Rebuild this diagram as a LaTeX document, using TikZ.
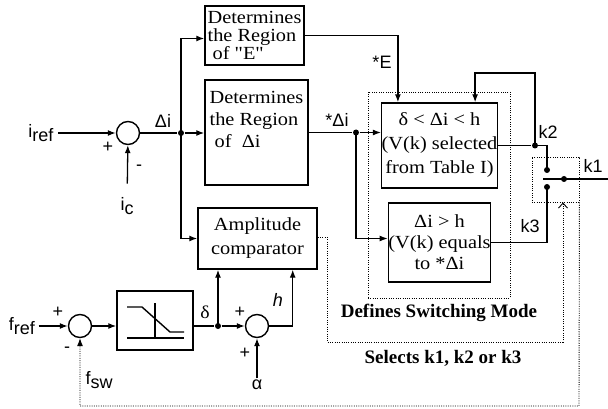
\documentclass[tikz,border=0pt]{standalone}
\usepackage{fontspec}
\setmainfont{Liberation Serif}
\newfontfamily\lblfont{Liberation Sans}
\newfontfamily\boxfont[FakeStretch=1.1]{Liberation Serif}
\usetikzlibrary{arrows.meta,positioning}
\newcommand{\lsub}[2]{#1\raisebox{-0.45ex}{#2}}

\begin{document}
\begin{tikzpicture}[x=1pt,y=-1pt,line width=1.3pt,>={Latex[length=8pt,width=6pt]},
  blk/.style={draw,line width=1.4pt,inner sep=1pt,font=\boxfont\fontsize{18.5}{#1}\selectfont},
  sumc/.style={draw,circle,line width=1.4pt,minimum size=23pt,inner sep=0pt},
  lbl/.style={font=\lblfont\fontsize{18}{18}\selectfont,inner sep=1pt},
  bfl/.style={font=\bfseries\fontsize{19}{19}\selectfont,inner sep=1pt},
  dotj/.style={circle,fill,inner sep=0pt,minimum size=6pt},
  dbox/.style={draw,dash pattern=on 1pt off 1.3pt,line width=0.9pt}]
  \useasboundingbox (0,0) rectangle (608,409);

  % blocks
  \node[blk=18,minimum width=99pt,minimum height=59pt,align=left,inner sep=0pt] (regE) at (254.5,35.5)
    {Determines\\the Region\\\ of "E"};
  \node[blk=22,minimum width=103pt,minimum height=105pt,align=left] (reg) at (256.5,132.5)
    {Determines\\the Region\\\ of\ \ Δi\\[4pt]};
  \node[blk=24,minimum width=119pt,minimum height=61pt,align=center] (amp) at (257.5,238.5)
    {Amplitude\\comparator};
  \node[blk=24,minimum width=107pt,minimum height=85pt,align=center,inner sep=0pt] (dsel) at (439.5,145.5)
    {δ < Δi < h\\(V(k) selected\\from Table I)};
  \node[blk=21,minimum width=97pt,minimum height=79pt,align=center,inner sep=0pt] (eq) at (439.5,242.5)
    {Δi > h\\(V(k) equals\\to *Δi};
  \node[blk=18,minimum width=76pt,minimum height=59pt] (sat) at (155,320.5) {};
  \draw[line width=1.4pt] (127,307) -- (142,307) -- (170,332) -- (184,332);
  \draw[line width=1.4pt] (155,303) -- (155,338);
  \draw[line width=1.4pt] (127,338) -- (184,338);

  % summing points
  \node[sumc] (s1) at (128,133) {};
  \node[sumc] (s2) at (80,326) {};
  \node[sumc] (s3) at (257,326) {};

  % labels
  \node[lbl] (iref) at (41,133) {\lsub{i}{ref}};
  \node[lbl] (ic) at (127,206) {\lsub{i}{c}};
  \node[lbl] (fref) at (22,326) {\lsub{f}{ref}};
  \node[lbl] (fsw) at (99,380) {\lsub{f}{sw}};
  \node[lbl] (alpha) at (257,385) {α};
  \node[lbl,font=\lblfont\itshape\fontsize{18}{18}\selectfont] (hl) at (278,300) {h};
  \node[lbl,font=\boxfont\fontsize{18}{18}\selectfont] (dl) at (205,312) {δ};
  \node[lbl] (dil) at (163,121) {Δi};
  \node[lbl] (sdil) at (337,120) {*Δi};
  \node[lbl] (sel) at (382,62) {*E};
  \node[lbl] (k2l) at (548,132) {k2};
  \node[lbl] (k1l) at (593,166) {k1};
  \node[lbl] (k3l) at (530,226) {k3};
  \foreach \nm/\px/\py/\sg in {p1/108/147/+,m1/139/168/-,p2/58/312/+,m2/67/350/-,p3/240/312/+,p4/245/353/+}
    \node[lbl] (\nm) at (\px,\py) {\sg};

  % junctions and switch
  \node[dotj] (j1) at (181,133) {};
  \node[dotj] (j2) at (356,132.5) {};
  \node[dotj] (j3) at (218,326) {};
  \node[dotj] (k2j) at (535,145.5) {};
  \node[dotj] (c2) at (547,170) {};
  \node[dotj] (c3) at (547,187) {};
  \node[dotj] (pv) at (564,179) {};
  \coordinate (lv0) at (543,179);
  \coordinate (lv1) at (608,179);
  \coordinate (loop) at (535,73);
  \coordinate (fb) at (579,406);
  \coordinate (sa) at (327,342);
  \coordinate (sb) at (563,342);

  % dotted frames
  \node[dbox,minimum width=142pt,minimum height=206pt] (mode) at (439,195) {};
  \node[bfl,below=4pt of mode] (model) {Defines Switching Mode};
  \node[dbox,minimum width=47pt,minimum height=45pt] (swb) at (555.5,179.5) {};
  \node[bfl] (selk) at (443,358) {Selects k1, k2 or k3};

  % connections
  \draw[->] ([xshift=3pt]iref.east) -- (s1);
  \draw[->,shorten <=12pt] (ic) -- (s1);
  \draw (s1) -- (j1);
  \draw[->] (j1) -- (j1 -| reg.west);
  \draw[->] (j1.center) |- ([yshift=-3pt]regE.west);
  \draw[->] (j1.center) |- (amp.west);
  \draw[->] (regE.east) -| ([xshift=17pt]dsel.north west);
  \draw (reg.east) -- (j2);
  \draw[->] (j2) -- (j2 -| dsel.west);
  \draw[->] (j2.center) |- ([yshift=4pt]eq.west);
  \draw (dsel.east) -- (k2j);
  \draw (k2j.center) -| (c2.center);
  \draw[->] (k2j.center) -- (loop) -| ([xshift=-23pt]dsel.north east);
  \draw (c3.center) |- (eq.east);
  \draw (lv0) -- (lv1);

  \draw[->] ([xshift=2pt]fref.east) -- (s2);
  \draw[->] (s2) -- (s2 -| sat.west);
  \draw (sat.east |- j3) -- (j3);
  \draw[->] (j3.center) -- (j3 |- amp.south);
  \draw[->] (j3) -- (s3);
  \draw[->] (s3) -| ([xshift=-25pt]amp.south east);
  \draw[->] (alpha) -- (s3);

  \draw[dbox,->] (swb.south east) -- (fb) -| (s2);
  \draw[dbox,-{Straight Barb[length=5pt,width=9pt]}] ([yshift=1.5pt]amp.east) -| (sa) -- (sb) -- (sb |- swb.south);
\end{tikzpicture}
\end{document}
